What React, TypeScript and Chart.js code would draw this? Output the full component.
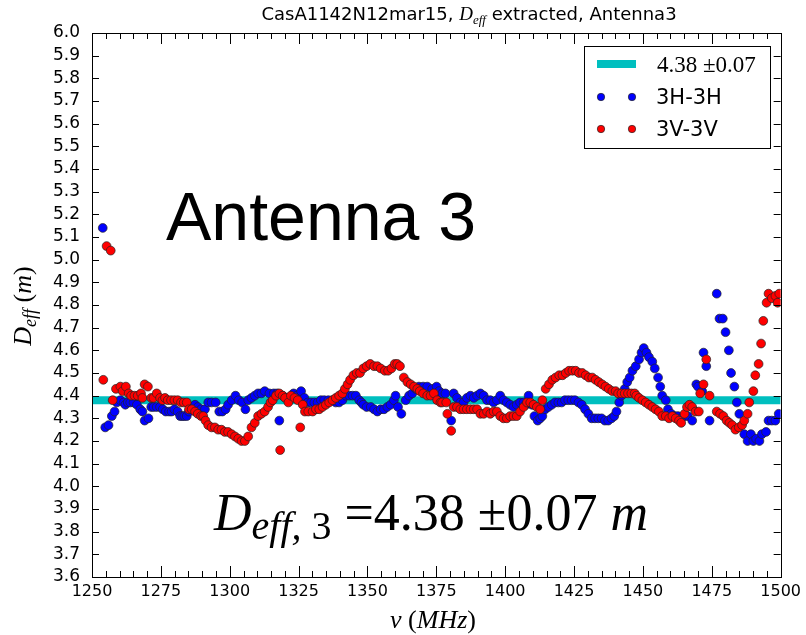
import React, { useEffect, useRef } from 'react';
import { Chart, registerables } from 'chart.js';
Chart.register(...registerables);

// ---- data ----
const hFreq = [1253.9,1254.8,1256.0,1257.2,1258.2,1259.0,1260.3,1261.5,1262.1,1263.0,1263.9,1265.1,1266.3,1267.5,1268.3,1269.1,1270.5,1271.5,1272.4,1273.5,1274.7,1275.7,1276.8,1278.0,1278.9,1279.9,1281.1,1282.0,1282.8,1283.5,1284.4,1285.2,1286.2,1287.4,1288.4,1289.6,1291.0,1292.2,1293.4,1294.9,1296.2,1297.3,1298.5,1299.4,1300.7,1302.1,1303.3,1304.5,1305.7,1306.7,1307.9,1309.1,1310.3,1311.5,1312.7,1314.4,1316.0,1317.2,1318.0,1319.2,1320.4,1321.6,1323.2,1324.4,1325.9,1327.1,1328.3,1329.5,1330.7,1331.9,1333.1,1334.3,1335.8,1337.3,1338.5,1339.7,1340.9,1342.1,1343.4,1344.6,1345.8,1347.0,1347.8,1348.5,1349.7,1351.2,1352.4,1353.6,1354.8,1356.0,1357.2,1358.4,1359.6,1360.2,1361.1,1362.3,1363.9,1365.1,1366.3,1367.5,1368.7,1370.2,1371.7,1373.5,1375.1,1376.0,1377.1,1378.3,1380.4,1381.3,1382.5,1383.7,1384.9,1386.1,1387.4,1388.6,1389.8,1391.0,1392.2,1393.4,1394.6,1395.8,1397.0,1398.2,1399.4,1400.6,1401.8,1403.0,1404.2,1405.4,1406.7,1407.5,1408.5,1409.7,1410.6,1411.8,1412.7,1413.5,1414.5,1415.7,1416.9,1418.1,1419.3,1420.5,1421.7,1422.9,1424.1,1425.3,1426.6,1427.8,1429.0,1430.2,1431.4,1432.6,1433.8,1435.0,1436.2,1437.4,1438.6,1439.6,1440.4,1441.4,1442.2,1443.4,1444.3,1445.2,1446.2,1447.4,1448.6,1449.5,1450.3,1451.3,1452.2,1453.4,1454.3,1455.5,1456.3,1457.0,1458.3,1459.1,1460.3,1461.5,1462.7,1463.9,1465.1,1466.3,1467.9,1469.4,1470.0,1471.5,1472.0,1473.0,1474.2,1476.8,1477.8,1479.0,1480.0,1481.2,1482.0,1483.2,1484.1,1485.0,1486.8,1488.0,1489.2,1490.1,1491.1,1492.3,1493.2,1494.7,1495.6,1496.8,1498.1,1499.3];
const hVal = [5.14,4.26,4.27,4.31,4.33,4.37,4.38,4.37,4.36,4.37,4.37,4.37,4.36,4.34,4.33,4.29,4.30,4.35,4.35,4.35,4.35,4.34,4.33,4.33,4.33,4.34,4.33,4.31,4.31,4.31,4.31,4.33,4.35,4.36,4.35,4.34,4.34,4.37,4.37,4.37,4.33,4.33,4.34,4.36,4.38,4.40,4.38,4.37,4.34,4.38,4.39,4.40,4.41,4.41,4.42,4.41,4.41,4.41,4.29,4.40,4.39,4.39,4.41,4.40,4.42,4.39,4.37,4.37,4.37,4.37,4.38,4.38,4.38,4.38,4.37,4.37,4.38,4.40,4.40,4.40,4.40,4.38,4.37,4.36,4.35,4.35,4.34,4.33,4.34,4.34,4.35,4.36,4.38,4.40,4.35,4.32,4.38,4.40,4.41,4.43,4.44,4.44,4.44,4.43,4.44,4.42,4.41,4.41,4.29,4.41,4.39,4.37,4.37,4.39,4.40,4.39,4.40,4.41,4.40,4.38,4.38,4.37,4.38,4.40,4.38,4.37,4.36,4.35,4.36,4.37,4.37,4.36,4.40,4.36,4.31,4.29,4.30,4.31,4.34,4.35,4.36,4.37,4.37,4.37,4.38,4.38,4.38,4.38,4.37,4.36,4.34,4.32,4.30,4.30,4.30,4.30,4.29,4.29,4.30,4.31,4.33,4.37,4.40,4.43,4.46,4.48,4.51,4.53,4.56,4.59,4.61,4.59,4.57,4.55,4.52,4.48,4.44,4.40,4.38,4.34,4.32,4.31,4.31,4.30,4.31,4.31,4.29,4.45,4.44,4.42,4.59,4.53,4.29,4.85,4.74,4.74,4.68,4.60,4.50,4.44,4.37,4.32,4.23,4.20,4.23,4.20,4.21,4.20,4.23,4.24,4.29,4.29,4.29,4.32];

const vFreq = [1254.1,1255.3,1256.8,1257.5,1258.7,1260.3,1261.1,1262.3,1263.3,1264.2,1265.4,1266.6,1267.8,1268.3,1269.1,1270.3,1271.5,1272.3,1273.5,1274.7,1275.6,1276.5,1277.5,1278.7,1279.9,1281.1,1282.3,1283.3,1284.4,1285.2,1286.2,1287.4,1288.4,1289.6,1290.4,1291.2,1292.2,1293.4,1294.6,1295.8,1297.0,1298.2,1299.4,1300.7,1301.9,1303.1,1304.3,1305.5,1306.7,1307.9,1309.1,1310.3,1311.5,1312.7,1313.9,1314.8,1315.6,1316.8,1318.0,1318.3,1319.2,1320.1,1321.3,1322.2,1323.5,1324.7,1325.6,1326.5,1327.3,1328.5,1330.1,1331.3,1332.5,1333.7,1334.9,1336.1,1337.3,1338.5,1339.7,1340.9,1341.8,1342.8,1343.7,1344.9,1346.1,1347.3,1348.5,1349.7,1351.0,1352.4,1353.6,1354.8,1356.3,1357.5,1358.7,1359.9,1360.8,1361.8,1363.2,1364.5,1365.7,1366.9,1368.1,1369.0,1370.2,1371.7,1372.9,1374.1,1375.3,1376.5,1377.1,1378.6,1379.0,1380.4,1381.3,1382.5,1383.7,1384.9,1386.1,1387.4,1388.6,1389.8,1391.0,1392.2,1393.4,1394.6,1395.8,1397.0,1398.2,1399.4,1400.6,1401.8,1403.0,1404.2,1405.4,1406.7,1407.9,1409.1,1410.3,1411.5,1412.7,1413.5,1414.7,1415.9,1417.1,1418.3,1419.6,1420.8,1422.0,1423.2,1424.4,1425.6,1426.8,1428.0,1429.2,1430.4,1431.6,1432.8,1434.0,1435.2,1436.4,1437.6,1438.9,1440.1,1441.0,1442.2,1443.4,1444.6,1445.8,1447.0,1447.6,1448.6,1449.8,1451.0,1452.2,1453.4,1454.6,1455.8,1457.0,1458.3,1459.5,1460.7,1461.9,1463.1,1463.9,1465.1,1466.0,1466.9,1467.9,1469.1,1470.3,1470.8,1472.0,1473.0,1474.2,1476.8,1478.0,1479.2,1480.4,1481.4,1482.4,1483.6,1484.8,1486.0,1486.8,1488.0,1488.6,1490.1,1490.8,1492.0,1492.9,1493.7,1494.9,1495.6,1496.8,1498.1,1498.9,1499.5];
const vVal = [4.47,5.06,5.04,4.38,4.43,4.44,4.42,4.44,4.41,4.40,4.40,4.40,4.41,4.39,4.45,4.44,4.39,4.39,4.41,4.39,4.38,4.39,4.38,4.38,4.38,4.38,4.37,4.37,4.37,4.34,4.34,4.33,4.32,4.31,4.31,4.29,4.27,4.26,4.26,4.25,4.25,4.24,4.24,4.23,4.22,4.21,4.20,4.20,4.22,4.26,4.28,4.31,4.32,4.33,4.35,4.37,4.38,4.40,4.41,4.16,4.40,4.39,4.37,4.40,4.39,4.38,4.26,4.36,4.33,4.33,4.33,4.34,4.34,4.35,4.36,4.37,4.38,4.39,4.40,4.41,4.43,4.45,4.47,4.49,4.50,4.50,4.52,4.53,4.54,4.53,4.53,4.52,4.51,4.51,4.52,4.54,4.54,4.53,4.48,4.46,4.45,4.44,4.43,4.42,4.41,4.40,4.40,4.41,4.38,4.37,4.37,4.37,4.32,4.245,4.35,4.35,4.34,4.34,4.34,4.34,4.34,4.34,4.32,4.32,4.33,4.32,4.33,4.33,4.31,4.30,4.30,4.31,4.31,4.31,4.33,4.35,4.37,4.37,4.36,4.35,4.34,4.38,4.43,4.45,4.47,4.48,4.49,4.49,4.50,4.51,4.51,4.51,4.50,4.50,4.49,4.48,4.48,4.47,4.46,4.45,4.44,4.43,4.42,4.42,4.41,4.41,4.41,4.41,4.41,4.41,4.40,4.39,4.38,4.37,4.36,4.35,4.34,4.33,4.31,4.31,4.30,4.31,4.30,4.29,4.28,4.32,4.35,4.36,4.35,4.33,4.33,4.41,4.45,4.56,4.40,4.33,4.32,4.31,4.29,4.28,4.27,4.25,4.26,4.27,4.29,4.32,4.37,4.42,4.49,4.54,4.63,4.73,4.81,4.85,4.83,4.84,4.81,4.85];

const fitValue = 4.38;
const fitLabel = '4.38 \u00b10.07';
const seriesLabels = ['3H-3H', '3V-3V'];
const xMin = 1250, xMax = 1500, xStep = 25, xMinorStep = 5;
const yMin = 3.6, yMax = 6.0, yStep = 0.1;

const BLUE = '#0000ff';
const RED = '#ff0000';
const CYAN = '#00bfbf';

type Part = { t: string; font: string; dy?: number };

function drawRich(ctx: CanvasRenderingContext2D, parts: Part[], x: number, y: number, align: 'left' | 'center') {
  let w = 0;
  for (const p of parts) { ctx.font = p.font; w += ctx.measureText(p.t).width; }
  let cx = align === 'center' ? x - w / 2 : x;
  ctx.textAlign = 'left';
  ctx.textBaseline = 'alphabetic';
  for (const p of parts) {
    ctx.font = p.font;
    ctx.fillText(p.t, cx, y + (p.dy || 0));
    cx += ctx.measureText(p.t).width;
  }
}

function dot(ctx: CanvasRenderingContext2D, x: number, y: number, r: number, color: string) {
  ctx.beginPath();
  ctx.arc(x, y, r, 0, Math.PI * 2);
  ctx.fillStyle = color;
  ctx.fill();
  ctx.lineWidth = 0.7;
  ctx.strokeStyle = '#222';
  ctx.stroke();
}

const decor = {
  id: 'decor',
  afterDatasetsDraw(chart: any) {
    const ctx: CanvasRenderingContext2D = chart.ctx;
    const { left, right, top, bottom } = chart.chartArea;
    const xs = chart.scales.x, ys = chart.scales.y;
    ctx.save();
    ctx.strokeStyle = '#000';
    ctx.lineWidth = 1;
    ctx.beginPath();
    for (let v = xMin; v <= xMax + 0.001; v += xMinorStep) {
      const px = Math.round(xs.getPixelForValue(v)) + 0.5;
      const len = Math.abs((v - xMin) % xStep) < 0.01 ? 11 : 6;
      ctx.moveTo(px, bottom); ctx.lineTo(px, bottom - len);
      ctx.moveTo(px, top); ctx.lineTo(px, top + len);
    }
    for (let i = 0; i <= Math.round((yMax - yMin) / yStep); i++) {
      const py = Math.round(ys.getPixelForValue(yMin + i * yStep)) + 0.5;
      ctx.moveTo(left, py); ctx.lineTo(left + 7, py);
      ctx.moveTo(right, py); ctx.lineTo(right - 7, py);
    }
    ctx.stroke();
    ctx.strokeRect(Math.round(left) + 0.5, Math.round(top) + 0.5, Math.round(right - left), Math.round(bottom - top));
    ctx.restore();
  },
  afterDraw(chart: any) {
    const ctx: CanvasRenderingContext2D = chart.ctx;
    ctx.save();
    ctx.fillStyle = '#000';
    // title
    drawRich(ctx, [
      { t: 'CasA1142N12mar15, ', font: "18px 'DejaVu Sans'" },
      { t: 'D', font: "italic 19px 'Liberation Serif'" },
      { t: 'eff', font: "italic 13px 'Liberation Serif'", dy: 4 },
      { t: ' extracted, Antenna3', font: "18px 'DejaVu Sans'" },
    ], 469, 20, 'center');
    // x label
    drawRich(ctx, [
      { t: '\u03bd', font: "italic 26px 'Liberation Serif'" },
      { t: ' (', font: "26px 'Liberation Serif'" },
      { t: 'MHz', font: "italic 26px 'Liberation Serif'" },
      { t: ')', font: "26px 'Liberation Serif'" },
    ], 433, 628, 'center');
    // y label
    ctx.save();
    ctx.translate(31, 306);
    ctx.rotate(-Math.PI / 2);
    drawRich(ctx, [
      { t: 'D', font: "italic 26px 'Liberation Serif'" },
      { t: 'eff', font: "italic 18px 'Liberation Serif'", dy: 5 },
      { t: ' (', font: "26px 'Liberation Serif'" },
      { t: 'm', font: "italic 26px 'Liberation Serif'" },
      { t: ')', font: "26px 'Liberation Serif'" },
    ], 0, 0, 'center');
    ctx.restore();
    // legend
    ctx.fillStyle = '#fff';
    ctx.fillRect(584.5, 46.5, 186, 102);
    ctx.strokeStyle = '#000';
    ctx.lineWidth = 1;
    ctx.strokeRect(584.5, 46.5, 186, 102);
    ctx.strokeStyle = CYAN;
    ctx.lineWidth = 8;
    ctx.beginPath(); ctx.moveTo(597, 64); ctx.lineTo(636, 64); ctx.stroke();
    ctx.fillStyle = '#000';
    drawRich(ctx, [{ t: fitLabel, font: "23px 'Liberation Serif'" }], 657, 72, 'left');
    dot(ctx, 601, 97, 3.7, BLUE); dot(ctx, 632, 97, 3.7, BLUE);
    dot(ctx, 601, 129, 3.7, RED); dot(ctx, 632, 129, 3.7, RED);
    ctx.fillStyle = '#000';
    drawRich(ctx, [{ t: seriesLabels[0], font: "21px 'DejaVu Sans'" }], 656, 104, 'left');
    drawRich(ctx, [{ t: seriesLabels[1], font: "21px 'DejaVu Sans'" }], 656, 136, 'left');
    // annotations
    drawRich(ctx, [{ t: 'Antenna 3', font: "68px 'Liberation Sans'" }], 166, 240, 'left');
    drawRich(ctx, [
      { t: 'D', font: "italic 52px 'Liberation Serif'" },
      { t: 'eff, ', font: "italic 40px 'Liberation Serif'", dy: 9 },
      { t: '3', font: "40px 'Liberation Serif'", dy: 9 },
      { t: ' =4.38 \u00b10.07 ', font: "52px 'Liberation Serif'" },
      { t: 'm', font: "italic 52px 'Liberation Serif'" },
    ], 214, 530, 'left');
    ctx.restore();
  },
};

export default function App() {
  const ref = useRef<HTMLCanvasElement>(null);
  useEffect(() => {
    document.body.style.margin = '0';
    const canvas = ref.current!;
    const chart = new Chart(canvas, {
      type: 'scatter',
      data: {
        datasets: [
          {
            label: seriesLabels[1],
            data: vFreq.map((f, i) => ({ x: f, y: vVal[i] })),
            backgroundColor: RED,
            borderColor: '#222',
            borderWidth: 0.7,
            pointRadius: 4.4,
            order: 1,
            clip: 0,
          } as any,
          {
            label: seriesLabels[0],
            data: hFreq.map((f, i) => ({ x: f, y: hVal[i] })),
            backgroundColor: BLUE,
            borderColor: '#222',
            borderWidth: 0.7,
            pointRadius: 4.4,
            order: 2,
            clip: 0,
          } as any,
          {
            type: 'line',
            label: fitLabel,
            data: [{ x: xMin, y: fitValue }, { x: xMax, y: fitValue }],
            borderColor: CYAN,
            borderWidth: 8,
            pointRadius: 0,
            order: 3,
            clip: 0,
          } as any,
        ],
      },
      options: {
        animation: false,
        responsive: false,
        devicePixelRatio: 1,
        layout: { padding: { left: 0, right: 23, top: 33, bottom: 0 } },
        plugins: { legend: { display: false }, tooltip: { enabled: false }, title: { display: false } },
        scales: {
          x: {
            type: 'linear', min: xMin, max: xMax,
            afterFit: (s: any) => { s.height = 58; },
            grid: { display: false, drawTicks: false },
            border: { display: false },
            ticks: {
              stepSize: xStep, autoSkip: false, maxRotation: 0, padding: 5, color: '#000',
              font: { family: "'DejaVu Sans'", size: 16 },
              callback: (v: any) => String(v),
            },
          },
          y: {
            type: 'linear', min: yMin, max: yMax,
            afterFit: (s: any) => { s.width = 92; },
            grid: { display: false, drawTicks: false },
            border: { display: false },
            ticks: {
              stepSize: yStep, autoSkip: false, padding: 12, color: '#000',
              font: { family: "'DejaVu Sans'", size: 17 },
              callback: (v: any) => Number(v).toFixed(1),
            },
          },
        },
      },
      plugins: [decor],
    });
    return () => chart.destroy();
  }, []);
  return <canvas ref={ref} width={806} height={635} style={{ display: 'block' }} />;
}
